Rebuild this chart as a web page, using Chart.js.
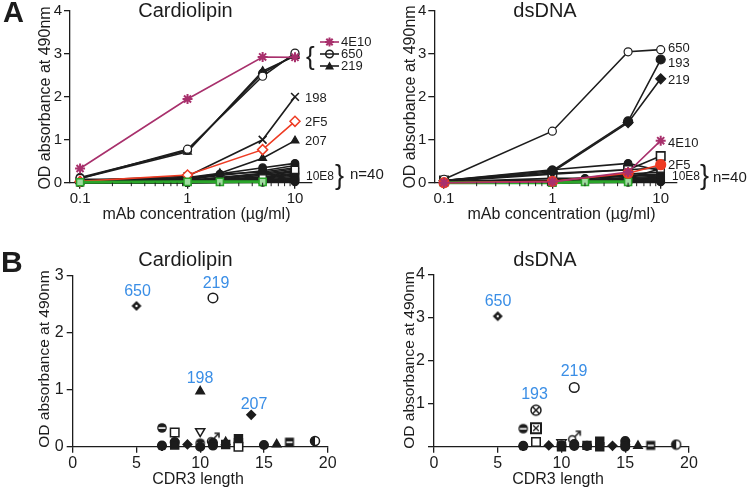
<!DOCTYPE html>
<html>
<head>
<meta charset="utf-8">
<script src="https://cdn.jsdelivr.net/npm/chart.js@4.4.1/dist/chart.umd.min.js"></script>
<style>
  body { margin: 0; background: #fff; }
  #wrap { position: relative; width: 750px; height: 490px; overflow: hidden;
          font-family: "Liberation Sans", Arial, sans-serif; color: #1c1c1c; }
  canvas { position: absolute; }
  .t { position: absolute; white-space: nowrap; line-height: 1; }
</style>
</head>
<body>
<div id="wrap">
  <canvas id="aL" width="375" height="245" style="left:0;top:0"></canvas>
  <canvas id="aR" width="375" height="245" style="left:375px;top:0"></canvas>
  <canvas id="bL" width="375" height="245" style="left:0;top:245px"></canvas>
  <canvas id="bR" width="375" height="245" style="left:375px;top:245px"></canvas>
</div>
<script>
// ---- panel A: OD490 vs mAb concentration ----
const conc = [0.1, 1, 2, 5, 10];
const concTicks = [0.1, 1, 10];
const concTickLabels = ["0.1", "1", "10"];
const concMinor = [0.2, 0.3, 0.4, 0.5, 0.6, 0.7, 0.8, 0.9, 2, 3, 4, 5, 6, 7, 8, 9];

// cardiolipin
const clp4E10  = [0.33, 1.95, null, 2.93, 2.92];
const clp650   = [0.10, 0.78, null, 2.48, 3.02];
const clp219   = [0.10, 0.72, null, 2.60, 2.95];
const clpHigh3 = [0.12, 0.75, null, 2.55, 2.98];
const clp198   = [0.05, 0.15, null, 1.00, 2.00];
const clp2F5   = [0.03, 0.18, null, 0.77, 1.43];
const clp207   = [0.05, 0.12, 0.22, 0.57, 0.98];
const clp10E8  = [0.01, 0.02, null, 0.10, 0.30];
const clpGreen = [0.01, 0.02, 0.02, 0.02, null];
const clpLow = [
  [0.05, 0.10, null, 0.35, 0.45],
  [0.08, 0.08, null, 0.28, 0.40],
  [0.05, 0.06, 0.20, 0.25, 0.35],
  [0.03, 0.05, null, 0.22, 0.32],
  [0.03, 0.05, null, 0.20, 0.28],
  [0.02, 0.04, null, 0.17, 0.25],
  [0.02, 0.03, null, 0.14, 0.22],
  [0.01, 0.03, null, 0.12, 0.20],
  [0.01, 0.03, null, 0.10, 0.18],
  [0.01, 0.02, null, 0.08, 0.15],
  [0.00, 0.02, null, 0.06, 0.12],
  [0.00, 0.01, null, 0.05, 0.10],
  [0.00, 0.01, null, 0.04, 0.08],
  [0.00, 0.00, null, 0.03, 0.06],
  [0.00, 0.00, null, 0.02, 0.04],
  [0.00, 0.00, null, 0.01, 0.02]
];

// dsDNA
const ds650   = [0.08, 1.20, null, 3.05, 3.10];
const ds193   = [0.05, 0.28, null, 1.43, 2.87];
const ds219   = [0.05, 0.25, null, 1.40, 2.42];
const ds4E10  = [0.00, 0.02, null, 0.25, 0.98];
const dsSq    = [0.05, 0.22, null, 0.30, 0.62];
const ds2F5   = [0.00, 0.03, null, 0.22, 0.42];
const ds10E8  = [0.00, 0.01, null, 0.10, 0.33];
const dsGreen = [0.00, 0.00, 0.02, 0.02, null];
const dsLow = [
  [0.05, 0.30, null, 0.45, 0.28],
  [0.03, 0.20, null, 0.30, 0.35],
  [0.02, 0.10, 0.10, 0.20, 0.25],
  [0.02, 0.06, null, 0.17, 0.20],
  [0.02, 0.05, null, 0.15, 0.18],
  [0.01, 0.03, null, 0.12, 0.15],
  [0.01, 0.03, null, 0.10, 0.12],
  [0.00, 0.02, null, 0.08, 0.10],
  [0.00, 0.01, null, 0.06, 0.08],
  [0.00, 0.01, null, 0.05, 0.06],
  [0.00, 0.00, null, 0.04, 0.05],
  [0.00, 0.00, null, 0.03, 0.04],
  [0.00, 0.00, null, 0.02, 0.03],
  [0.00, 0.00, null, 0.01, 0.02]
];

// ---- panel B: OD490 vs CDR3 length ----
const clpLen = [5, 11, 10, 14, 7, 8, 10, 11, 7, 7, 8, 8, 9, 10, 10, 11, 11, 12, 12, 13, 13, 13, 15, 16, 17, 19];
const clpOD  = [2.47, 2.61, 0.97, 0.56, 0.33, 0.25, 0.27, 0.13, 0.01, 0.02, 0.08, 0.03, 0.04, 0.06, 0.00, 0.07, 0.02, 0.08, 0.04, 0.14, 0.07, 0.00, 0.03, 0.04, 0.08, 0.10];
const clpMarks = ["dot650", "openCircle", "triFill", "diamondFill", "halfBand", "openSquare", "downTri", "male", "starFill", "dot",
                  "dot", "rectFill", "diamondFill", "halfBand", "dot", "dot", "dot", "triFill", "rectFill", "rectFill",
                  "rectFill", "openSquare", "dot", "triFill", "bandSquare", "halfLeft"];

const dsLen = [5, 11, 8, 7, 8, 8, 11, 10, 7, 7, 9, 10, 10, 11, 11, 12, 12, 13, 13, 14, 15, 15, 15, 16, 17, 19];
const dsOD  = [3.04, 1.38, 0.85, 0.42, 0.43, 0.11, 0.22, 0.10, 0.01, 0.02, 0.03, 0.03, 0.00, 0.06, 0.02, 0.03, 0.02, 0.13, 0.00, 0.02, 0.13, 0.05, 0.00, 0.02, 0.03, 0.05];
const dsMarks = ["dot650", "openCircle", "circleX", "halfBand", "squareX", "openSquare", "male", "downTri", "starFill", "dot",
                 "diamondFill", "dot", "rectFill", "dot", "dot", "rectFill", "dot", "rectFill", "rectFill", "diamondFill",
                 "dot", "dot", "dot", "triFill", "bandSquare", "halfLeft"];

const INK = "#1c1c1c", MAG = "#a8306c", RED = "#ee3b23", GRN = "#2aa52a", BLUE = "#3a8ee6";
const FAMILY = '"Liberation Sans", Arial, sans-serif';
Chart.defaults.font.family = FAMILY;
Chart.defaults.color = INK;

const wrap = document.getElementById("wrap");
function txt(s, x, base, size, o = {}) {
  const d = document.createElement("div");
  d.className = "t";
  d.textContent = s;
  d.style.fontSize = size + "px";
  d.style.left = x + "px";
  d.style.top = (base - 0.8465 * size) + "px";
  if (o.center) d.style.transform = "translateX(-50%)";
  if (o.color) d.style.color = o.color;
  if (o.bold) d.style.fontWeight = "bold";
  wrap.appendChild(d);
}
function vtxt(s, cx, cy, size) {
  const d = document.createElement("div");
  d.className = "t";
  d.textContent = s;
  d.style.fontSize = size + "px";
  d.style.left = cx + "px";
  d.style.top = cy + "px";
  d.style.transform = "translate(-50%,-50%) rotate(-90deg)";
  wrap.appendChild(d);
}

// ---- helpers for panel A ----
const pts = (arr) => conc.map((x, i) => arr[i] == null ? null : { x, y: arr[i] }).filter(Boolean);
function line(arr, st) {
  return Object.assign({
    data: pts(arr), borderColor: INK, borderWidth: 1.6, pointStyle: "circle",
    pointRadius: 3.5, pointBorderWidth: 1.2, pointBackgroundColor: INK, pointBorderColor: INK,
    tension: 0, clip: false, spanGaps: true
  }, st);
}

const minorTicks = {
  id: "minorTicks",
  afterDraw(chart) {
    const sx = chart.scales.x, ctx = chart.ctx, y0 = chart.chartArea.bottom;
    ctx.save();
    ctx.strokeStyle = INK; ctx.lineWidth = 1;
    concMinor.forEach(v => {
      const px = sx.getPixelForValue(v);
      ctx.beginPath(); ctx.moveTo(px, y0); ctx.lineTo(px, y0 + 3.5); ctx.stroke();
    });
    ctx.restore();
  }
};

function axisCommon(size) {
  return {
    grid: { drawOnChartArea: false, tickLength: 6, color: INK, lineWidth: 1.3 },
    border: { color: INK, width: 1.3 },
    ticks: { font: { size }, color: INK, autoSkip: false, maxRotation: 0 }
  };
}

function makeA(id, box, datasets, plugins) {
  const xa = axisCommon(15), ya = axisCommon(15);
  return new Chart(document.getElementById(id), {
    type: "line",
    data: { datasets },
    options: {
      responsive: false, animation: false, events: [],
      layout: { padding: { left: 0, top: box.top, right: 375 - box.right, bottom: 0 } },
      plugins: { legend: { display: false }, tooltip: { enabled: false } },
      scales: {
        x: Object.assign(xa, {
          type: "logarithmic", min: box.xmin, max: box.xmax,
          afterBuildTicks: s => { s.ticks = concTicks.map(v => ({ value: v })); },
          afterFit: s => { s.height = 245 - box.bottom; },
          ticks: Object.assign(xa.ticks, { padding: 1, callback: v => concTickLabels[concTicks.indexOf(v)] ?? "" })
        }),
        y: Object.assign(ya, {
          min: 0, max: 4,
          afterFit: s => { s.width = box.left; },
          ticks: Object.assign(ya.ticks, { stepSize: 1, padding: 2 })
        })
      }
    },
    plugins: [minorTicks].concat(plugins || [])
  });
}

// legend drawn on the cardiolipin canvas
function drawMark(ctx, kind, x, y, color) {
  ctx.save();
  ctx.strokeStyle = color; ctx.fillStyle = color; ctx.lineWidth = 1.5;
  ctx.beginPath();
  if (kind === "star") {
    for (let a = 0; a < 4; a++) {
      const t = a * Math.PI / 4;
      ctx.moveTo(x - 4.5 * Math.cos(t), y - 4.5 * Math.sin(t));
      ctx.lineTo(x + 4.5 * Math.cos(t), y + 4.5 * Math.sin(t));
    }
    ctx.lineWidth = 2; ctx.stroke();
  } else if (kind === "circle") {
    ctx.arc(x, y, 3.8, 0, Math.PI * 2);
    ctx.fillStyle = "#fff"; ctx.fill(); ctx.stroke();
    ctx.beginPath(); ctx.moveTo(x - 3.8, y); ctx.lineTo(x + 3.8, y); ctx.stroke();
  } else {
    ctx.moveTo(x, y - 4.5); ctx.lineTo(x + 4.5, y + 3.5); ctx.lineTo(x - 4.5, y + 3.5); ctx.closePath();
    ctx.fill();
  }
  ctx.restore();
}
const legendA = {
  id: "legendA",
  afterDraw(chart) {
    const ctx = chart.ctx;
    [[MAG, "star", 42], [INK, "circle", 54], [INK, "tri", 66]].forEach(([c, k, y]) => {
      ctx.save();
      ctx.strokeStyle = c; ctx.lineWidth = 1.6;
      ctx.beginPath(); ctx.moveTo(320, y); ctx.lineTo(339, y); ctx.stroke();
      ctx.restore();
      drawMark(ctx, k, 329.5, y, c);
    });
  }
};

// ---- panel A charts ----
const lowStyle = { pointRadius: 3.8 };
makeA("aL", { left: 70, right: 312, top: 11, bottom: 182.7, xmin: 0.0806, xmax: 14.4 }, [
  line(clp4E10, { borderColor: MAG, pointStyle: "star", pointRadius: 5, pointBorderColor: MAG, pointBorderWidth: 2 }),
  line(clpGreen, { borderColor: GRN, borderWidth: 3, pointStyle: "rect", pointRadius: 5, pointBackgroundColor: "#9fdc9f", pointBorderColor: GRN, pointBorderWidth: 1.5 }),
  line(clp2F5, { borderColor: RED, pointStyle: "rectRot", pointRadius: 5, pointBackgroundColor: "#fff", pointBorderColor: RED, pointBorderWidth: 1.5 }),
  line(clp650, { pointBackgroundColor: "#fff", pointRadius: 4 }),
  line(clpHigh3, { pointRadius: 4 }),
  line(clp219, { pointStyle: "triangle", pointRadius: 4.5 }),
  line(clp198, { pointStyle: "crossRot", pointRadius: 5.5, pointBorderWidth: 1.6 }),
  line(clp207, { pointStyle: "triangle", pointRadius: 4.5 }),
  line(clp10E8, { pointStyle: "rect", pointRadius: 5, pointBackgroundColor: "#fff" })
].concat(clpLow.map(a => line(a, lowStyle))), [legendA]);

makeA("aR", { left: 59.3, right: 301.7, top: 11, bottom: 182.7, xmin: 0.0813, xmax: 14.05 }, [
  line(ds4E10, { borderColor: MAG, pointStyle: "star", pointRadius: 5, pointBorderColor: MAG, pointBorderWidth: 2 }),
  line(ds2F5, { borderColor: RED, pointRadius: 5, pointBackgroundColor: RED, pointBorderColor: RED }),
  line(dsGreen, { borderColor: GRN, borderWidth: 3, pointStyle: "rect", pointRadius: 5, pointBackgroundColor: "#9fdc9f", pointBorderColor: GRN, pointBorderWidth: 1.5 }),
  line(ds650, { pointBackgroundColor: "#fff", pointRadius: 4 }),
  line(ds193, { pointRadius: 4.5 }),
  line(ds219, { pointStyle: "rectRot", pointRadius: 5 }),
  line(dsSq, { pointStyle: "rect", pointRadius: 6, pointBackgroundColor: "#fff", pointBorderWidth: 1.6 }),
  line(ds10E8, { pointStyle: "rect", pointRadius: 5, pointBackgroundColor: "#fff" })
].concat(dsLow.map(a => line(a, lowStyle))));

// ---- panel B markers ----
function glyph(size, draw) {
  const c = document.createElement("canvas");
  c.width = size; c.height = size;
  const g = c.getContext("2d");
  g.strokeStyle = INK; g.fillStyle = INK; g.lineWidth = 1.5;
  draw(g, size / 2);
  return c;
}
const markDefs = {
  dot650: { style: glyph(12, (g, m) => {
    g.beginPath(); g.moveTo(m, m - 5); g.lineTo(m + 5, m); g.lineTo(m, m + 5); g.lineTo(m - 5, m); g.closePath(); g.fill();
    g.fillStyle = "#fff"; g.beginPath(); g.arc(m, m, 1.2, 0, Math.PI * 2); g.fill();
  }) },
  openCircle: { style: "circle", r: 4.8, bg: "#fff" },
  triFill: { style: "triangle", r: 4.8, bg: INK },
  diamondFill: { style: "rectRot", r: 4.3, bg: INK },
  halfBand: { style: glyph(12, (g, m) => {
    g.beginPath(); g.arc(m, m, 4.8, 0, Math.PI * 2); g.fill();
    g.fillStyle = "#fff"; g.fillRect(m - 3.5, m - 0.7, 7, 1.6);
  }) },
  openSquare: { style: "rect", r: 6, bg: "#fff" },
  downTri: { style: "triangle", r: 5.3, bg: "#fff", rot: 180 },
  male: { style: glyph(16, (g, m) => {
    g.beginPath(); g.arc(m - 2, m + 2, 3.5, 0, Math.PI * 2); g.stroke();
    g.beginPath(); g.moveTo(m + 0.5, m - 0.5); g.lineTo(m + 5.5, m - 5.5); g.stroke();
    g.beginPath(); g.moveTo(m + 1.5, m - 6); g.lineTo(m + 6, m - 6); g.lineTo(m + 6, m - 1.5); g.stroke();
  }) },
  starFill: { style: "star", r: 4.8, bw: 2.2 },
  dot: { style: "circle", r: 4.3, bg: INK },
  rectFill: { style: "rect", r: 5.6, bg: INK },
  bandSquare: { style: glyph(12, (g, m) => {
    g.fillRect(m - 4.5, m - 4.5, 9, 9);
    g.fillStyle = "#fff"; g.fillRect(m - 3, m - 0.7, 6, 1.6);
  }) },
  halfLeft: { style: glyph(12, (g, m) => {
    g.beginPath(); g.arc(m, m, 4.5, 0, Math.PI * 2); g.fillStyle = "#fff"; g.fill(); g.stroke();
    g.fillStyle = INK; g.beginPath(); g.arc(m, m, 4.5, Math.PI / 2, Math.PI * 1.5); g.fill();
  }) },
  circleX: { style: glyph(14, (g, m) => {
    g.beginPath(); g.arc(m, m, 5, 0, Math.PI * 2); g.stroke();
    g.beginPath(); g.moveTo(m - 3.2, m - 3.2); g.lineTo(m + 3.2, m + 3.2); g.moveTo(m + 3.2, m - 3.2); g.lineTo(m - 3.2, m + 3.2); g.stroke();
  }) },
  squareX: { style: glyph(14, (g, m) => {
    g.lineWidth = 2; g.strokeRect(m - 5, m - 5, 10, 10);
    g.lineWidth = 1.3; g.beginPath(); g.moveTo(m - 2.8, m - 2.8); g.lineTo(m + 2.8, m + 2.8); g.moveTo(m + 2.8, m - 2.8); g.lineTo(m - 2.8, m + 2.8); g.stroke();
  }) }
};

function makeB(id, box, lens, ods, marks, ymax, hideZero) {
  const xa = axisCommon(16), ya = axisCommon(16);
  const def = (c) => markDefs[marks[c.dataIndex]] || markDefs.dot;
  return new Chart(document.getElementById(id), {
    type: "scatter",
    data: { datasets: [{
      data: lens.map((x, i) => ({ x, y: ods[i] })),
      pointStyle: c => def(c).style,
      pointRadius: c => def(c).r || 4.5,
      pointRotation: c => def(c).rot || 0,
      pointBackgroundColor: c => def(c).bg || INK,
      pointBorderColor: INK,
      pointBorderWidth: c => def(c).bw || 1.5,
      clip: false
    }] },
    options: {
      responsive: false, animation: false, events: [],
      layout: { padding: { left: 0, top: box.top, right: 375 - box.right, bottom: 0 } },
      plugins: { legend: { display: false }, tooltip: { enabled: false } },
      scales: {
        x: Object.assign(xa, {
          type: "linear", min: 0, max: 20,
          afterFit: s => { s.height = 245 - box.bottom; },
          ticks: Object.assign(xa.ticks, { stepSize: 5, padding: 1 })
        }),
        y: Object.assign(ya, {
          min: 0, max: ymax,
          afterFit: s => { s.width = box.left; },
          ticks: Object.assign(ya.ticks, { stepSize: 1, padding: 3, callback: v => (hideZero && v === 0) ? "" : String(v) })
        })
      }
    }
  });
}

makeB("bL", { left: 72.7, right: 327.7, top: 30.7, bottom: 201.7 }, clpLen, clpOD, clpMarks, 3, false);
makeB("bR", { left: 59, right: 314, top: 30, bottom: 201.7 }, dsLen, dsOD, dsMarks, 4, true);

// ---- texts ----
txt("A", 3, 23, 29, { bold: true });
txt("B", 1, 272, 30, { bold: true });

txt("Cardiolipin", 185.5, 17, 20, { center: true });
txt("dsDNA", 545, 17, 20, { center: true });
txt("Cardiolipin", 185.5, 266, 20, { center: true });
txt("dsDNA", 545, 266, 20, { center: true });

txt("mAb concentration (\u00b5g/ml)", 196.5, 220, 16, { center: true });
txt("mAb concentration (\u00b5g/ml)", 561.5, 220, 16, { center: true });
txt("CDR3 length", 198, 485, 16, { center: true });
txt("CDR3 length", 558, 485, 16, { center: true });

vtxt("OD absorbance at 490nm", 45, 98, 16);
vtxt("OD absorbance at 490nm", 410, 97, 16);
vtxt("OD absorbance at 490nm", 44, 359, 15.5);
vtxt("OD absorbance at 490nm", 409, 360, 15.5);

// legend + line labels, cardiolipin
txt("4E10", 341, 46.5, 13);
txt("650", 341, 58.5, 13);
txt("219", 341, 70.5, 13);
txt("{", 306, 65, 26);
txt("198", 305, 102, 13);
txt("2F5", 305, 126, 13);
txt("207", 305, 145, 13);
txt("10E8", 306, 180, 12);
txt("}", 335, 185, 27);
txt("n=40", 350, 179, 15);

// line labels, dsDNA
txt("650", 668, 52, 13);
txt("193", 668, 67, 13);
txt("219", 668, 84, 13);
txt("4E10", 668, 147, 13);
txt("2F5", 668, 169, 13);
txt("10E8", 672, 180, 12);
txt("}", 700, 185, 27);
txt("n=40", 713, 182, 15);

// panel B labels
txt("650", 137.5, 297, 16, { center: true, color: BLUE });
txt("219", 216, 289, 16, { center: true, color: BLUE });
txt("198", 200, 384, 16, { center: true, color: BLUE });
txt("207", 254, 410, 16, { center: true, color: BLUE });
txt("650", 498, 307, 16, { center: true, color: BLUE });
txt("193", 534.5, 400, 16, { center: true, color: BLUE });
txt("219", 574, 377, 16, { center: true, color: BLUE });
</script>
</body>
</html>
